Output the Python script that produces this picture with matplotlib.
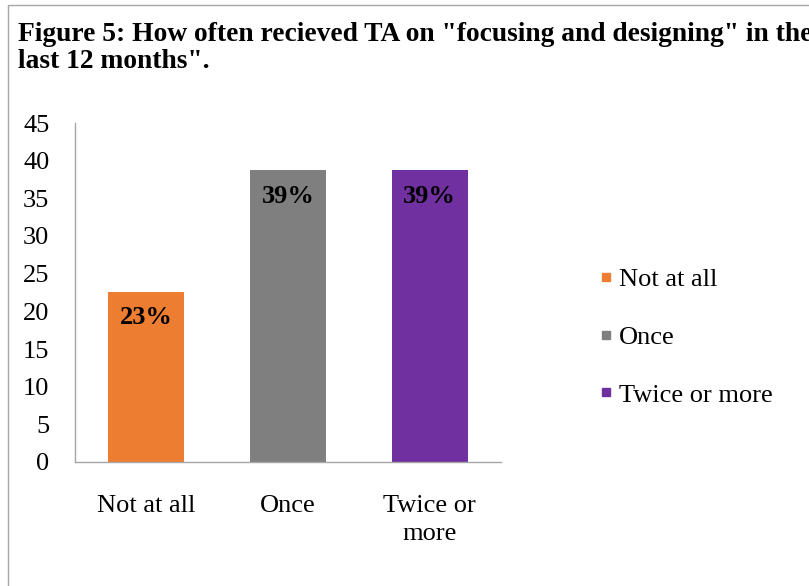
import matplotlib.pyplot as plt
from matplotlib.lines import Line2D
from matplotlib.patches import Rectangle

# share of respondents by how often they got TA
categories = ['Not at all', 'Once', 'Twice or\nmore']
legend_labels = ['Not at all', 'Once', 'Twice or more']
values = [22.6, 38.7, 38.7]
colors = ['#ED7D31', '#7F7F7F', '#7030A0']

plt.rcParams['font.family'] = ['Liberation Serif', 'DejaVu Serif']

fig = plt.figure(figsize=(8.09, 5.86), dpi=100)
ax = fig.add_axes([75 / 809, 1 - 462 / 586, (500.7 - 75) / 809, (462 - 123) / 586])

x = range(len(values))
bars = ax.bar(x, values, width=0.536, color=colors)

# percentage labels just inside the top of each bar
for b, v in zip(bars, values):
    ax.annotate(f'{round(v)}%', (b.get_x() + b.get_width() / 2, v),
                xytext=(0, -26), textcoords='offset pixels',
                ha='center', va='center', fontsize=19, fontweight='bold')

ax.set_xlim(-0.5, 2.5)
ax.set_ylim(0, 45)
ax.set_yticks(range(0, 46, 5))
ax.set_xticks(list(x))
ax.set_xticklabels(categories, linespacing=1.4)
ax.tick_params(axis='both', length=0, labelsize=19)
ax.tick_params(axis='y', pad=18.5)
ax.tick_params(axis='x', pad=23.5)

for s in ['top', 'right']:
    ax.spines[s].set_visible(False)
for s in ['left', 'bottom']:
    ax.spines[s].set_color('#A6A6A6')
    ax.spines[s].set_linewidth(1.0)

handles = [Line2D([], [], marker='s', linestyle='none', markersize=5.8,
                  markerfacecolor=c, markeredgecolor=c) for c in colors]
fig.legend(handles, legend_labels, loc='center left',
           bbox_to_anchor=(598 / 809, 1 - 337 / 586), frameon=False,
           fontsize=19, labelspacing=1.3, handlelength=0.6,
           handletextpad=0.19, borderpad=0, borderaxespad=0)

fig.text(18 / 809, 1 - 22 / 586,
         'Figure 5: How often recieved TA on "focusing and designing" in the\nlast 12 months".',
         ha='left', va='top', fontsize=19.8, fontweight='bold', linespacing=1.1)

# chart frame, running off the right and bottom edges
fig.patches.append(Rectangle((8 / 809, -0.05), 1.2, 1.05 - 5 / 586,
                             transform=fig.transFigure, fill=False,
                             edgecolor='#A6A6A6', linewidth=1.0))

fig.savefig('out.png', dpi=100)
